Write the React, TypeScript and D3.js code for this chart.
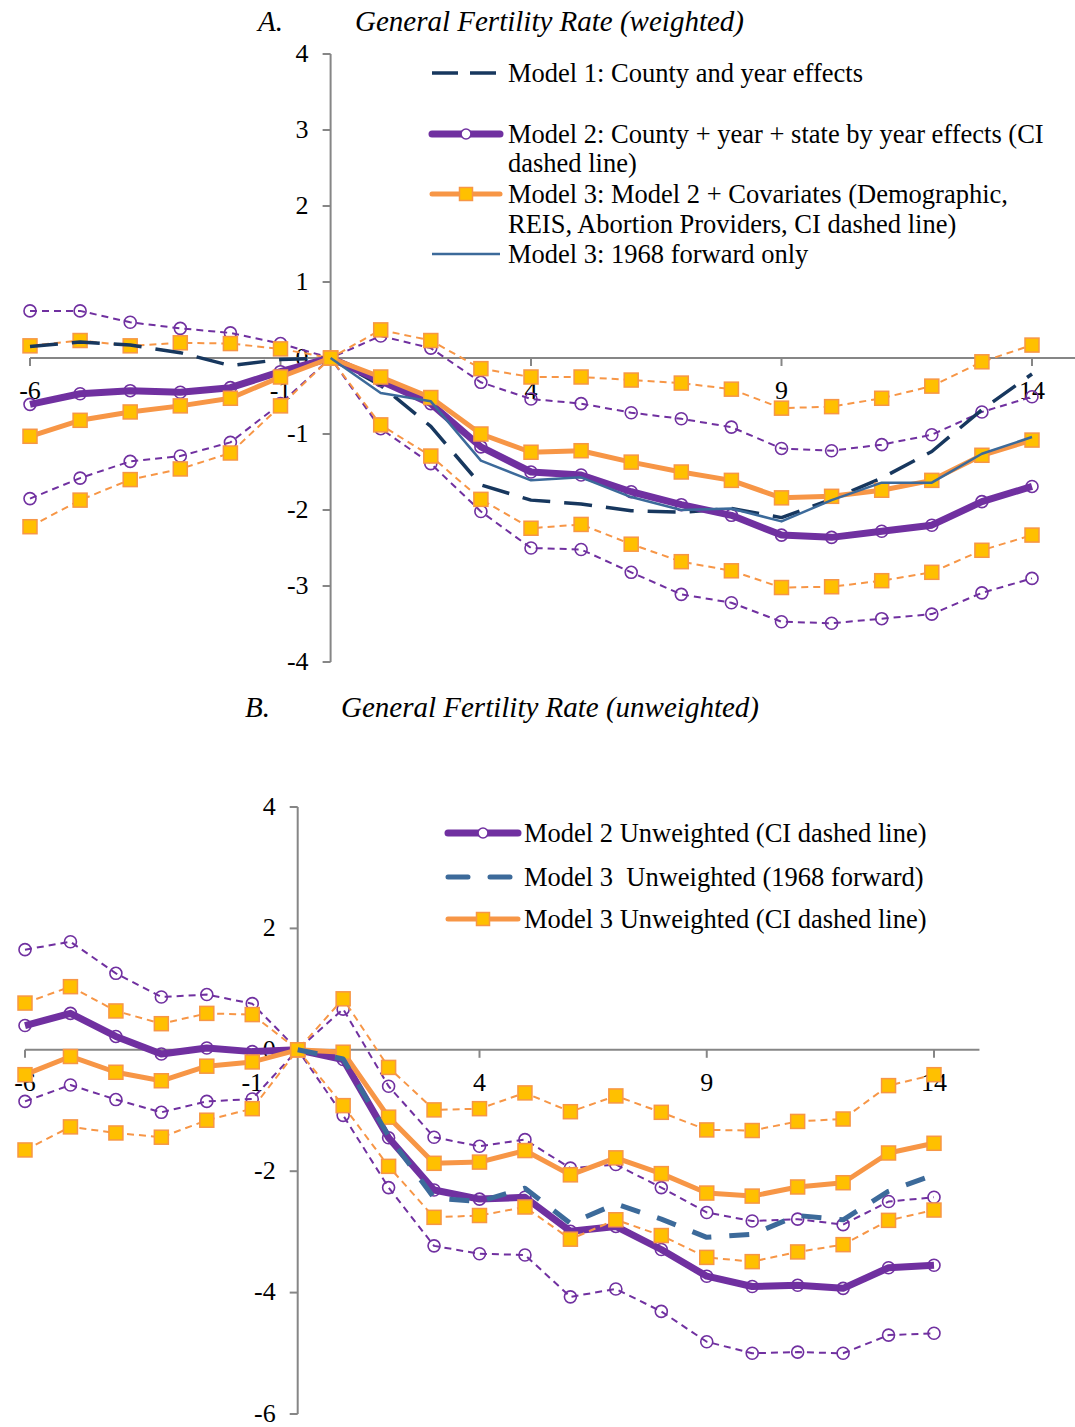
import React from "react";
import * as d3 from "d3";

// ---------- Panel A data (weighted) ----------
const eventTimeA = [-6, -5, -4, -3, -2, -1, 0, 1, 2, 3, 4, 5, 6, 7, 8, 9, 10, 11, 12, 13, 14];
const model1A = [0.15, 0.21, 0.17, 0.07, -0.1, -0.02, 0, -0.36, -0.9, -1.67, -1.87, -1.92, -2.01, -2.03, -1.98, -2.1, -1.86, -1.58, -1.23, -0.68, -0.21];
const model2A = [-0.61, -0.47, -0.43, -0.45, -0.39, -0.18, 0, -0.3, -0.6, -1.17, -1.5, -1.54, -1.76, -1.93, -2.07, -2.33, -2.36, -2.28, -2.2, -1.89, -1.69];
const model2AUpper = [0.62, 0.62, 0.47, 0.39, 0.33, 0.19, 0, 0.29, 0.13, -0.32, -0.54, -0.6, -0.72, -0.8, -0.91, -1.19, -1.22, -1.14, -1.01, -0.71, -0.51];
const model2ALower = [-1.85, -1.58, -1.36, -1.29, -1.11, -0.6, 0, -0.93, -1.39, -2.02, -2.5, -2.52, -2.82, -3.11, -3.22, -3.47, -3.49, -3.43, -3.37, -3.09, -2.9];
const model3A = [-1.03, -0.82, -0.71, -0.63, -0.53, -0.25, 0, -0.25, -0.52, -1.0, -1.24, -1.22, -1.37, -1.5, -1.61, -1.84, -1.82, -1.74, -1.61, -1.28, -1.08];
const model3AUpper = [0.16, 0.23, 0.16, 0.2, 0.19, 0.12, 0, 0.37, 0.23, -0.14, -0.25, -0.25, -0.29, -0.33, -0.41, -0.66, -0.64, -0.53, -0.37, -0.05, 0.17];
const model3ALower = [-2.22, -1.87, -1.6, -1.46, -1.25, -0.63, 0, -0.88, -1.29, -1.86, -2.24, -2.19, -2.45, -2.68, -2.8, -3.02, -3.01, -2.93, -2.82, -2.53, -2.33];
const model3A1968 = [null, null, null, null, null, null, 0, -0.46, -0.57, -1.35, -1.61, -1.57, -1.83, -2.0, -1.98, -2.15, -1.87, -1.64, -1.64, -1.26, -1.04];

// ---------- Panel B data (unweighted) ----------
const eventTimeB = [-6, -5, -4, -3, -2, -1, 0, 1, 2, 3, 4, 5, 6, 7, 8, 9, 10, 11, 12, 13, 14];
const model2B = [0.4, 0.6, 0.22, -0.07, 0.03, -0.03, 0, -0.16, -1.45, -2.31, -2.46, -2.43, -2.99, -2.91, -3.29, -3.73, -3.9, -3.88, -3.93, -3.59, -3.55];
const model2BUpper = [1.65, 1.78, 1.26, 0.87, 0.91, 0.76, 0, 0.67, -0.6, -1.44, -1.59, -1.48, -1.95, -1.89, -2.27, -2.68, -2.82, -2.79, -2.88, -2.5, -2.43];
const model2BLower = [-0.85, -0.58, -0.82, -1.03, -0.85, -0.81, 0, -1.08, -2.27, -3.23, -3.36, -3.38, -4.07, -3.94, -4.31, -4.81, -5.0, -4.98, -5.0, -4.7, -4.67];
const model3B = [-0.41, -0.11, -0.37, -0.51, -0.27, -0.2, 0, -0.04, -1.11, -1.87, -1.85, -1.66, -2.06, -1.78, -2.04, -2.36, -2.41, -2.26, -2.19, -1.7, -1.54];
const model3BUpper = [0.77, 1.04, 0.64, 0.43, 0.6, 0.58, 0, 0.84, -0.29, -0.99, -0.97, -0.71, -1.02, -0.76, -1.03, -1.32, -1.33, -1.18, -1.14, -0.59, -0.41];
const model3BLower = [-1.65, -1.27, -1.37, -1.44, -1.16, -0.97, 0, -0.92, -1.92, -2.76, -2.73, -2.59, -3.12, -2.8, -3.06, -3.42, -3.49, -3.33, -3.21, -2.81, -2.64];
const model3B1968 = [null, null, null, null, null, null, 0, -0.15, -1.42, -2.44, -2.5, -2.28, -2.86, -2.54, -2.79, -3.09, -3.04, -2.73, -2.8, -2.33, -2.06];

const xTickValues = [-6, -1, 4, 9, 14];
const yTicksA = [4, 3, 2, 1, 0, -1, -2, -3, -4];
const yTicksB = [4, 2, 0, -2, -4, -6];

const PURPLE = "#7030A0";
const ORANGE = "#F79646";
const GOLD = "#FFC000";
const NAVY = "#17375E";
const STEEL = "#3C6A9A";
const AXIS = "#868686";
const FONT = "'Liberation Serif', 'Times New Roman', serif";
const TICK_FS = 26;
const LEG_FS = 26.5;
const TITLE_FS = 29;

type Pt = [number, number | null];

function toPts(xs: number[], ys: (number | null)[]): Pt[] {
  return xs.map((x, i) => [x, ys[i]] as Pt);
}

function Series({ pts, x, y, color, width, dash, marker }: any) {
  const line = d3
    .line<Pt>()
    .defined((d) => d[1] !== null)
    .x((d) => x(d[0]))
    .y((d) => y(d[1] as number));
  const valid = pts.filter((d: Pt) => d[1] !== null);
  return (
    <g>
      <path d={line(pts) || ""} fill="none" stroke={color} strokeWidth={width} strokeDasharray={dash} strokeLinejoin="round" />
      {marker === "circle" &&
        valid.map((d: Pt, i: number) => (
          <circle key={i} cx={x(d[0])} cy={y(d[1] as number)} r={6} fill="none" stroke={PURPLE} strokeWidth={1.6} />
        ))}
      {marker === "square" &&
        valid.map((d: Pt, i: number) => (
          <rect key={i} x={x(d[0]) - 7} y={y(d[1] as number) - 7} width={14} height={14} fill={GOLD} stroke={ORANGE} strokeWidth={1.5} />
        ))}
    </g>
  );
}

function Axes({ x, y, yTicks, xMax }: any) {
  const x0 = x(0);
  const y0 = y(0);
  const yTop = y(yTicks[0]);
  const yBot = y(yTicks[yTicks.length - 1]);
  return (
    <g>
      <line x1={x0} x2={x0} y1={yTop} y2={yBot} stroke={AXIS} strokeWidth={2} />
      {yTicks.map((t: number) => (
        <g key={t}>
          <line x1={x0 - 8} x2={x0} y1={y(t)} y2={y(t)} stroke={AXIS} strokeWidth={2} />
          <text x={x0 - 22} y={y(t)} dy="0.3em" textAnchor="end" fontSize={TICK_FS} fontFamily={FONT} fill="#000">
            {t < 0 ? "-" + Math.abs(t) : String(t)}
          </text>
        </g>
      ))}
      <line x1={x(-6)} x2={x(xMax)} y1={y0} y2={y0} stroke={AXIS} strokeWidth={2} />
      {xTickValues.map((t) => (
        <g key={t}>
          <line x1={x(t)} x2={x(t)} y1={y0} y2={y0 + 8} stroke={AXIS} strokeWidth={2} />
          <text x={x(t)} y={y0 + 32} dy="0.35em" textAnchor="middle" fontSize={TICK_FS} fontFamily={FONT} fill="#000">
            {t < 0 ? "-" + Math.abs(t) : String(t)}
          </text>
        </g>
      ))}
    </g>
  );
}

export default function App() {
  const xA = d3.scaleLinear().domain([-6, 14]).range([30, 1032]);
  const yA = d3.scaleLinear().domain([-4, 4]).range([662, 54]);
  const xB = d3.scaleLinear().domain([-6, 14]).range([25, 934]);
  const yB = d3.scaleLinear().domain([-6, 4]).range([1414, 807]);

  const tStyle = { fontFamily: FONT, fontSize: LEG_FS, fill: "#000" } as any;

  return (
    <svg width={1075} height={1427} style={{ position: "absolute", left: 0, top: 0, background: "#fff" }}>
      <rect width={1075} height={1427} fill="#fff" />
      {/* Panel A */}
      <text x={258} y={31} fontFamily={FONT} fontSize={TITLE_FS} fontStyle="italic">A.</text>
      <text x={355} y={31} fontFamily={FONT} fontSize={TITLE_FS} fontStyle="italic">General Fertility Rate (weighted)</text>
      <Axes x={xA} y={yA} yTicks={yTicksA} xMax={15} />
      <Series pts={toPts(eventTimeA, model2AUpper)} x={xA} y={yA} color={PURPLE} width={2} dash="7,5" marker="circle" />
      <Series pts={toPts(eventTimeA, model2ALower)} x={xA} y={yA} color={PURPLE} width={2} dash="7,5" marker="circle" />
      <Series pts={toPts(eventTimeA, model3AUpper)} x={xA} y={yA} color={ORANGE} width={2} dash="7,5" marker="square" />
      <Series pts={toPts(eventTimeA, model3ALower)} x={xA} y={yA} color={ORANGE} width={2} dash="7,5" marker="square" />
      <Series pts={toPts(eventTimeA, model1A)} x={xA} y={yA} color={NAVY} width={3.5} dash="28,14" />
      <Series pts={toPts(eventTimeA, model2A)} x={xA} y={yA} color={PURPLE} width={7} marker="circle" />
      <Series pts={toPts(eventTimeA, model3A)} x={xA} y={yA} color={ORANGE} width={5} marker="square" />
      <Series pts={toPts(eventTimeA, model3A1968)} x={xA} y={yA} color={STEEL} width={2.5} />

      {/* Legend A */}
      <g>
        <line x1={432} x2={500} y1={73} y2={73} stroke={NAVY} strokeWidth={3.5} strokeDasharray="26,12" />
        <text x={508} y={73} dy="0.35em" {...tStyle}>Model 1: County and year effects</text>
        <line x1={432} x2={500} y1={134} y2={134} stroke={PURPLE} strokeWidth={7} strokeLinecap="round" />
        <circle cx={466} cy={134} r={5} fill="#fff" stroke={PURPLE} strokeWidth={1.6} />
        <text x={508} y={134} dy="0.35em" {...tStyle}>Model 2: County + year + state by year effects (CI</text>
        <text x={508} y={163} dy="0.35em" {...tStyle}>dashed line)</text>
        <line x1={432} x2={500} y1={194} y2={194} stroke={ORANGE} strokeWidth={5} strokeLinecap="round" />
        <rect x={459.5} y={187.5} width={13} height={13} fill={GOLD} stroke={ORANGE} strokeWidth={1.5} />
        <text x={508} y={194} dy="0.35em" {...tStyle}>Model 3: Model 2 + Covariates (Demographic,</text>
        <text x={508} y={224} dy="0.35em" {...tStyle}>REIS, Abortion Providers, CI dashed line)</text>
        <line x1={432} x2={500} y1={254} y2={254} stroke={STEEL} strokeWidth={2.5} />
        <text x={508} y={254} dy="0.35em" {...tStyle}>Model 3: 1968 forward only</text>
      </g>

      {/* Panel B */}
      <text x={245} y={717} fontFamily={FONT} fontSize={TITLE_FS} fontStyle="italic">B.</text>
      <text x={341} y={717} fontFamily={FONT} fontSize={TITLE_FS} fontStyle="italic">General Fertility Rate (unweighted)</text>
      <Axes x={xB} y={yB} yTicks={yTicksB} xMax={15} />
      <Series pts={toPts(eventTimeB, model2BUpper)} x={xB} y={yB} color={PURPLE} width={2} dash="7,5" marker="circle" />
      <Series pts={toPts(eventTimeB, model2BLower)} x={xB} y={yB} color={PURPLE} width={2} dash="7,5" marker="circle" />
      <Series pts={toPts(eventTimeB, model2B)} x={xB} y={yB} color={PURPLE} width={7} marker="circle" />
      <Series pts={toPts(eventTimeB, model3BUpper)} x={xB} y={yB} color={ORANGE} width={2} dash="7,5" marker="square" />
      <Series pts={toPts(eventTimeB, model3BLower)} x={xB} y={yB} color={ORANGE} width={2} dash="7,5" marker="square" />
      <Series pts={toPts(eventTimeB, model3B)} x={xB} y={yB} color={ORANGE} width={5} marker="square" />
      <Series pts={toPts(eventTimeB, model3B1968)} x={xB} y={yB} color={STEEL} width={5} dash="20,18" />

      {/* Legend B */}
      <g>
        <line x1={448} x2={518} y1={833} y2={833} stroke={PURPLE} strokeWidth={7} strokeLinecap="round" />
        <circle cx={483} cy={833} r={5} fill="#fff" stroke={PURPLE} strokeWidth={1.6} />
        <text x={524} y={833} dy="0.35em" {...tStyle}>Model 2 Unweighted (CI dashed line)</text>
        <line x1={448} x2={518} y1={877} y2={877} stroke={STEEL} strokeWidth={5} strokeDasharray="20,22" strokeLinecap="round" />
        <text x={524} y={877} dy="0.35em" {...tStyle} style={{ whiteSpace: "pre" }} xmlSpace="preserve">Model 3  Unweighted (1968 forward)</text>
        <line x1={448} x2={518} y1={919} y2={919} stroke={ORANGE} strokeWidth={5} strokeLinecap="round" />
        <rect x={476.5} y={912.5} width={13} height={13} fill={GOLD} stroke={ORANGE} strokeWidth={1.5} />
        <text x={524} y={919} dy="0.35em" {...tStyle}>Model 3 Unweighted (CI dashed line)</text>
      </g>
    </svg>
  );
}
